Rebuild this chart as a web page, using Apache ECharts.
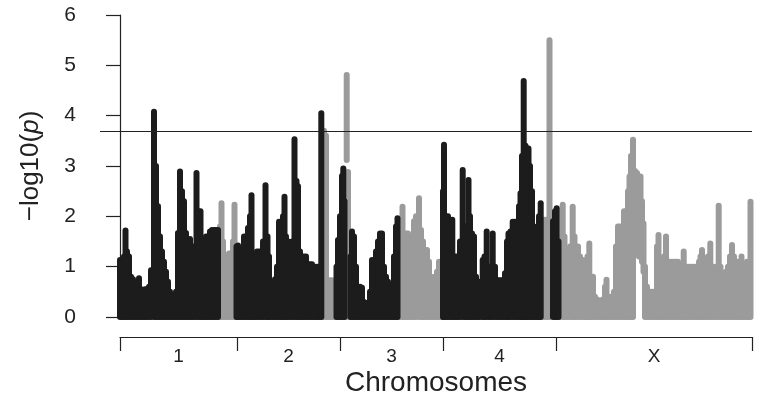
<!DOCTYPE html>
<html>
<head>
<meta charset="utf-8">
<script src="https://cdn.jsdelivr.net/npm/echarts@6/dist/echarts.min.js"></script>
<style>
  html, body { margin: 0; padding: 0; background: #fff; }
  #chart { width: 760px; height: 403px; }
</style>
</head>
<body>
<div id="chart"></div>
<script>
// chromosome layout (genome position units)
let chromNames = ['1', '2', '3', '4', 'X'];
let chromBounds = [0, 117, 220, 323, 436, 632];
let threshold = 3.7;

// runs of markers, alternating shade: [position, -log10(p) max, optional min]
let dark1 = [
    [0, 1.13], [2, 1.10], [4, 1.20], [5.5, 1.72], [7, 1.30], [9, 1.20], [11, 0.80], [13, 0.75],
    [15, 0.35], [17, 0.50], [19, 0.77], [21, 0.55], [23, 0.53], [25, 0.55], [27, 0.55], [29, 0.60],
    [31, 0.93], [34, 4.08], [36, 3.00], [38, 2.20], [40, 1.60], [42, 1.30], [44, 1.10], [46, 0.90],
    [48, 0.70], [50, 0.50], [52, 0.30], [54, 0.20], [56, 0.50], [58, 1.67], [60, 2.89], [62, 2.50],
    [64, 2.30], [66, 1.67], [68, 1.50], [70, 1.55], [72, 1.40], [74, 1.40], [76.5, 2.86], [78.5, 2.10],
    [80.5, 2.10], [82, 1.20], [84, 1.20], [86, 1.60], [88, 1.60], [90, 1.70], [92, 1.73], [94, 1.73],
    [96, 1.73], [98, 1.73]
];
let grey1 = [
    [100, 1.80], [101.5, 2.26], [103, 1.50], [105, 1.00], [107, 1.00], [109, 1.26], [111, 1.26],
    [113, 1.50], [114.5, 2.23], [116, 1.20]
];
let dark2 = [
    [116.5, 1.40], [118, 1.42], [120, 1.07], [122, 1.07], [124, 1.60], [126, 1.60], [128, 1.77],
    [130, 2.00], [131.5, 2.42], [133, 1.20], [135, 1.20], [137, 1.30], [139, 1.30], [141, 1.30],
    [143, 1.50], [145.5, 2.62], [147.5, 1.60], [149, 1.20], [151, 0.70], [153, 0.70], [155, 0.75],
    [157, 1.00], [159, 1.89], [161, 1.89], [163, 2.00], [164.5, 2.39], [166, 1.60], [168, 1.50],
    [170, 1.30], [172, 1.50], [174.5, 3.53], [176.5, 2.70], [178, 2.60], [180, 1.30], [182, 1.20],
    [184, 1.20], [186, 1.20], [188, 1.05], [190, 1.05], [192, 1.05], [194, 1.00], [196, 1.00],
    [198, 1.00], [199.5, 1.00], [201.3, 4.05]
];
let grey2 = [
    [202.5, 3.65], [204, 3.70], [206, 3.60], [208, 0.70], [210, 0.73], [212, 0.73], [214, 0.60]
];
let dark3 = [
    [216.5, 1.00], [218, 1.53], [220, 2.00], [222, 2.80], [223.3, 2.95], [224.5, 2.30]
];
let grey3 = [
    [226.7, 4.81, 3.12], [228, 2.88]
];
let dark4 = [
    [230.5, 1.20], [232, 1.70], [234, 1.60], [236, 1.00], [238, 0.60], [240, 0.60], [242, 0.58],
    [244, 0.30], [246, 0.28], [248, 0.28], [250, 0.50], [252, 1.13], [254, 1.13], [256, 1.30],
    [258, 1.50], [260, 1.66], [262, 1.66], [264, 1.00], [266, 0.80], [268, 0.70], [270, 0.60],
    [272, 0.60], [274, 1.20], [276, 1.80], [277.5, 1.96]
];
let grey4 = [
    [279, 1.50], [280, 1.80], [282.5, 2.19], [284, 1.66], [286, 1.66], [288, 1.66], [290, 1.53],
    [292, 1.60], [294, 1.90], [296, 2.00], [299, 2.36], [301, 1.73], [303, 1.50], [305, 1.33],
    [307, 1.33], [309, 1.10], [311, 0.80], [313, 0.75], [315, 0.80], [317, 0.90], [319, 1.10],
    [321, 1.10]
];
let dark5 = [
    [323, 2.50], [324, 3.42], [326, 2.00], [328, 2.00], [330, 1.93], [332.3, 1.93], [334, 1.20],
    [336, 1.20], [338, 1.20], [340, 1.50], [342.7, 2.92], [345, 1.80], [346.5, 1.80], [348.5, 2.72],
    [350, 2.00], [352, 1.66], [354, 1.60], [356, 0.80], [358, 0.70], [360, 0.70], [362.7, 1.13],
    [364.5, 1.20], [366.7, 1.70], [369, 1.00], [370.5, 1.00], [372.7, 1.66], [375, 1.00], [377, 0.73],
    [379, 0.73], [381, 0.73], [383, 0.73], [385, 0.87], [387, 1.50], [388.5, 1.66], [390.5, 1.70],
    [392.7, 1.89], [395, 1.89], [397, 1.89], [399, 2.20], [400.5, 2.46], [402, 3.20], [403.7, 4.69],
    [405.5, 3.40], [407, 3.35], [408.5, 3.35], [410, 3.00], [412, 2.50], [414, 1.80], [416, 1.73],
    [418, 1.73], [419, 2.00], [420.7, 2.26]
];
let grey5 = [
    [423, 1.93], [425, 1.93], [427, 1.93], [429.5, 5.50]
];
let dark6 = [
    [433, 1.90], [435, 2.10], [436.7, 2.16], [438.5, 1.50]
];
let grey6 = [
    [440, 1.50], [442.7, 2.23], [444.5, 1.60], [446, 1.00], [448, 1.00], [450, 1.40], [452.7, 2.19],
    [454.5, 1.60], [456, 1.40], [458, 1.40], [460, 1.20], [462.7, 1.13], [464.5, 0.90], [466, 0.90],
    [467.5, 1.20], [469.3, 1.46], [471, 0.80], [473, 0.80], [475, 0.40], [477, 0.35], [479, 0.33],
    [481, 0.33], [483, 0.35], [485, 0.60], [486.5, 0.74], [488, 0.40], [490, 0.40], [492, 0.40],
    [494, 0.50], [496, 1.40], [498, 1.80], [500, 1.80], [502, 1.80], [504, 2.10], [506, 2.10],
    [508, 2.50], [509.5, 2.79], [511, 3.20], [513, 3.52], [515, 2.90, 1.25], [517, 2.86, 1.25],
    [519, 2.79, 1.20], [520.5, 2.79, 1.20], [522, 2.30, 1.10], [523.5, 1.86, 0.90], [525, 1.00],
    [527, 0.60], [529, 0.50], [531, 0.50], [533, 0.50], [535, 0.50], [537, 1.40], [538.5, 1.63],
    [540, 1.00], [542, 1.00], [544, 1.20], [546, 1.60], [548, 1.10], [550, 1.10], [552, 1.10],
    [554, 1.10], [556, 1.10], [558, 1.10], [560, 1.00], [562, 1.00], [563.7, 1.30], [565.5, 1.00],
    [567, 1.00], [569, 1.00], [571, 1.00], [573, 1.00], [575, 1.00], [577, 1.00], [579, 1.10],
    [580.5, 1.20], [582, 1.33], [584, 1.00], [586, 1.00], [588, 1.20], [590.3, 1.46], [592, 1.00],
    [594, 1.00], [596, 0.90], [598.7, 2.21], [600.5, 1.00], [602, 0.87], [604, 0.87], [606, 0.90],
    [608, 1.00], [610, 1.20], [612, 1.43], [614, 1.20], [616, 1.10], [618, 1.10], [620, 1.10],
    [621.5, 1.20], [623, 1.00], [625, 1.00], [627, 1.10], [629, 1.10], [630.5, 2.29]
];

let darkColor = '#1c1c1c';
let greyColor = '#9b9b9b';
let fontName = '"Liberation Sans", Arial, sans-serif';

function toColumns(runs) {
    let out = [];
    runs.forEach(function (run) {
        run.forEach(function (p) {
            out.push([p[0], p.length > 2 ? p[2] : 0, p[1]]);
        });
    });
    return out;
}

function columnRenderer(color) {
    return function (params, api) {
        let top = api.coord([api.value(0), api.value(2)]);
        let bottom = api.coord([api.value(0), api.value(1)]);
        return {
            type: 'line',
            shape: { x1: top[0], y1: top[1], x2: bottom[0], y2: bottom[1] },
            style: { stroke: color, lineWidth: 6, lineCap: 'round' }
        };
    };
}

let labelCenters = [];
for (let i = 0; i < chromNames.length; i++) {
    labelCenters.push((chromBounds[i] + chromBounds[i + 1]) / 2);
}

let myChart = echarts.init(document.getElementById('chart'), null, { renderer: 'canvas' });

let option = {
    animation: false,
    backgroundColor: '#fff',
    textStyle: { fontFamily: fontName },
    grid: [
        { left: 100, right: 8, top: 15, bottom: 86 },
        { left: 120, right: 8, top: 336, height: 1 }
    ],
    xAxis: [
        { gridIndex: 0, type: 'value', min: -20, max: 632, show: false },
        {
            gridIndex: 1,
            type: 'value',
            min: 0,
            max: 632,
            position: 'bottom',
            name: 'Chromosomes',
            nameLocation: 'middle',
            nameGap: 32,
            nameTextStyle: { fontSize: 28, color: '#222', fontFamily: fontName },
            axisLine: { lineStyle: { color: '#222', width: 1.2 } },
            axisTick: { length: 14, customValues: chromBounds, lineStyle: { color: '#222', width: 1.2 } },
            axisLabel: {
                customValues: labelCenters,
                margin: 10,
                fontSize: 19,
                color: '#222',
                fontFamily: fontName,
                formatter: function (v) {
                    let idx = labelCenters.indexOf(v);
                    return idx >= 0 ? chromNames[idx] : '';
                }
            },
            splitLine: { show: false }
        }
    ],
    yAxis: [
        {
            gridIndex: 0,
            type: 'value',
            min: 0,
            max: 6,
            interval: 1,
            name: '\u2212log10({i|p})',
            nameLocation: 'middle',
            nameRotate: 90,
            nameGap: 56,
            nameTextStyle: {
                fontSize: 26,
                color: '#222',
                fontFamily: fontName,
                rich: { i: { fontSize: 26, fontStyle: 'italic', color: '#222', fontFamily: fontName } }
            },
            axisLine: { show: true, lineStyle: { color: '#222', width: 1.2 } },
            axisTick: { show: true, length: 14, lineStyle: { color: '#222', width: 1.2 } },
            axisLabel: { fontSize: 21, color: '#222', margin: 24, fontFamily: fontName },
            splitLine: { show: false }
        },
        { gridIndex: 1, type: 'value', show: false }
    ],
    series: [
        {
            type: 'custom',
            xAxisIndex: 0,
            yAxisIndex: 0,
            clip: false,
            renderItem: columnRenderer(greyColor),
            encode: { x: 0, y: [1, 2] },
            data: toColumns([grey1, grey2, grey3, grey4, grey5, grey6])
        },
        {
            type: 'custom',
            xAxisIndex: 0,
            yAxisIndex: 0,
            clip: false,
            renderItem: columnRenderer(darkColor),
            encode: { x: 0, y: [1, 2] },
            data: toColumns([dark1, dark2, dark3, dark4, dark5, dark6])
        },
        {
            type: 'line',
            xAxisIndex: 0,
            yAxisIndex: 0,
            data: [],
            z: 10,
            markLine: {
                silent: true,
                symbol: 'none',
                label: { show: false },
                lineStyle: { color: '#222', width: 1.2, type: 'solid' },
                data: [{ yAxis: threshold }]
            }
        }
    ]
};

myChart.setOption(option);
</script>
</body>
</html>
